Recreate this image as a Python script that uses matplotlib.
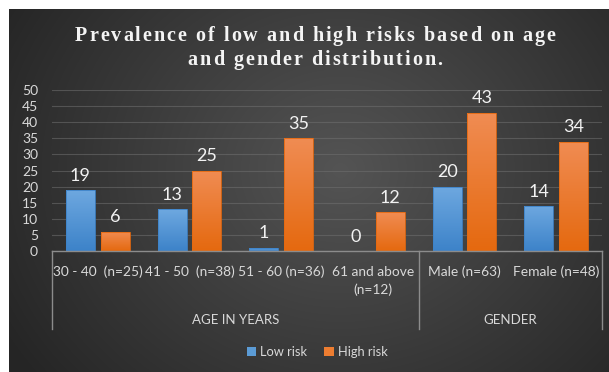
import numpy as np
import matplotlib
matplotlib.use("Agg")
import matplotlib.pyplot as plt
from matplotlib import font_manager as fm
from matplotlib.ft2font import FT2Font
from matplotlib.patches import Rectangle
from matplotlib.transforms import blended_transform_factory

# ---- data ----
categories = ["30 - 40  (n=25)", "41 - 50  (n=38)", "51 - 60 (n=36)",
              "61 and above\n(n=12)", "Male (n=63)", "Female (n=48)"]
groups = ["AGE IN YEARS", "GENDER"]
group_sizes = [4, 2]
low_risk = [19, 13, 1, 0, 20, 14]
high_risk = [6, 25, 35, 12, 43, 34]
series_names = ["Low risk", "High risk"]
y_ticks = list(range(0, 55, 5))
title_lines = ["Prevalence of low and high risks based on age",
               "and gender distribution."]

W, H = 609, 372
fig = plt.figure(figsize=(W / 100, H / 100), dpi=100)
fig.patch.set_facecolor("white")


def fx(px):
    return px / W


def fy(py):
    return (H - py) / H


# ---- dark radial background of the chart area ----
bg = fig.add_axes([fx(9), 0, fx(W - 9), (H - 9) / H])
bg.set_axis_off()
ys, xs = np.mgrid[9:H:1.0, 9:W:1.0]
r = np.sqrt((xs - 340) ** 2 + ((ys - 170) * 1.15) ** 2) / 390.0
r = np.clip(r, 0, 1)
inner = np.array([0x54, 0x54, 0x54]) / 255
outer = np.array([0x25, 0x25, 0x25]) / 255
img = inner[None, None, :] * (1 - r[..., None]) + outer[None, None, :] * r[..., None]
bg.imshow(img, extent=[0, 1, 0, 1], aspect="auto", origin="upper")
bg.set_xlim(0, 1)
bg.set_ylim(0, 1)

# ---- plot area ----
ax_left, ax_right, ax_top, ax_bottom = 52, 602, 90, 251
ax = fig.add_axes([fx(ax_left), fy(ax_bottom), fx(ax_right - ax_left),
                   (ax_bottom - ax_top) / H])
ax.set_facecolor("none")
n = len(categories)
x = np.arange(n)
width = 0.316
offset = 0.19

label_font = "Lato"
text_col = "#d9d9d9"


def gradient_bar(xc, h, top, bottom, z=3):
    if h <= 0:
        return
    x0 = xc - width / 2
    rect = Rectangle((x0, 0), width, h, facecolor="none",
                     edgecolor=bottom, linewidth=0.6, zorder=z + 1)
    ax.add_patch(rect)
    grad = np.linspace(0, 1, 64)[:, None, None]
    cols = np.array(bottom)[None, None, :] * (1 - grad) + np.array(top)[None, None, :] * grad
    im = ax.imshow(cols, extent=[x0, x0 + width, 0, h], origin="lower",
                   aspect="auto", zorder=z)
    im.set_clip_path(rect)


def hex2rgb(h):
    return [int(h[i:i + 2], 16) / 255 for i in (1, 3, 5)]


blue_top, blue_bot = hex2rgb("#6ea8e0"), hex2rgb("#3d83c9")
orange_top, orange_bot = hex2rgb("#f08c53"), hex2rgb("#e5690f")

for i in range(n):
    gradient_bar(x[i] - offset, low_risk[i], blue_top, blue_bot)
    gradient_bar(x[i] + offset, high_risk[i], orange_top, orange_bot)
    for xc, v in ((x[i] - offset, low_risk[i]), (x[i] + offset, high_risk[i])):
        ax.annotate(str(v), (xc, v), xytext=(0, 10.3), textcoords="offset points",
                    ha="center", va="center", color="#f2f2f2",
                    fontsize=13, family=label_font, zorder=6)

ax.set_xlim(-0.5, n - 0.5)
ax.set_ylim(0, 50)
ax.set_yticks(y_ticks)
ax.set_yticklabels([str(t) for t in y_ticks], family=label_font,
                   fontsize=10, color=text_col)
ax.tick_params(axis="y", length=0, pad=10)
ax.set_xticks([])
ax.grid(axis="y", color="#707070", linewidth=0.8, alpha=0.55, zorder=1)
ax.set_axisbelow(True)
for s in ("left", "right", "top"):
    ax.spines[s].set_visible(False)
ax.spines["bottom"].set_color("#8c8c8c")
ax.spines["bottom"].set_linewidth(1.0)
ax.spines["bottom"].set_zorder(7)

# multi-level category axis
btrans = blended_transform_factory(ax.transData, ax.transAxes)
px_per_axes = ax_bottom - ax_top
sep_depth = (329 - ax_bottom) / px_per_axes
bounds = [-0.5]
for s in group_sizes:
    bounds.append(bounds[-1] + s)
for b in bounds:
    ax.plot([b, b], [0, -sep_depth], transform=btrans, color="#8c8c8c",
            linewidth=1.0, clip_on=False)

line_gap = 18.5
for i, lab in enumerate(categories):
    for k, part in enumerate(lab.split("\n")):
        yy = -(271.5 - ax_bottom + k * line_gap) / px_per_axes
        ax.text(x[i], yy, part, transform=btrans, ha="center", va="center",
                fontsize=9.9, family=label_font, color=text_col)

start = 0
for g, s in zip(groups, group_sizes):
    gx = start + s / 2 - 0.5
    ax.text(gx, -(320 - ax_bottom) / px_per_axes, g, transform=btrans,
            ha="center", va="center", fontsize=9.5, family=label_font,
            color=text_col)
    start += s

# legend
handles = [Rectangle((0, 0), 1, 1, facecolor=c, edgecolor="none")
           for c in ("#5b9bd5", "#ed7d31")]
leg = fig.legend(handles, series_names, loc="center", ncol=2,
                 bbox_to_anchor=(fx(317), fy(352)), frameon=False,
                 handlelength=0.75, handleheight=0.75, handletextpad=0.3,
                 columnspacing=1.3, prop={"family": label_font, "size": 9.3})
for t in leg.get_texts():
    t.set_color(text_col)

# title with letter spacing
fp = fm.FontProperties(family="Liberation Serif", weight="bold", size=14.5)
font = FT2Font(fm.findfont(fp))
font.set_size(14.5, 100)
tracking = 2.0


def advance(ch):
    g = font.load_char(ord(ch))
    return g.linearHoriAdvance / 65536.0


title_cx = 315
baselines = [41, 65]
for line, base in zip(title_lines, baselines):
    advs = [advance(c) for c in line]
    total = sum(advs) + tracking * (len(line) - 1)
    pen = title_cx - total / 2
    for c, a in zip(line, advs):
        if c != " ":
            fig.text(fx(pen), fy(base), c, fontproperties=fp, color="#f4f4f4",
                     ha="left", va="baseline")
        pen += a + tracking

fig.savefig("out.png", dpi=100, facecolor=fig.get_facecolor())
